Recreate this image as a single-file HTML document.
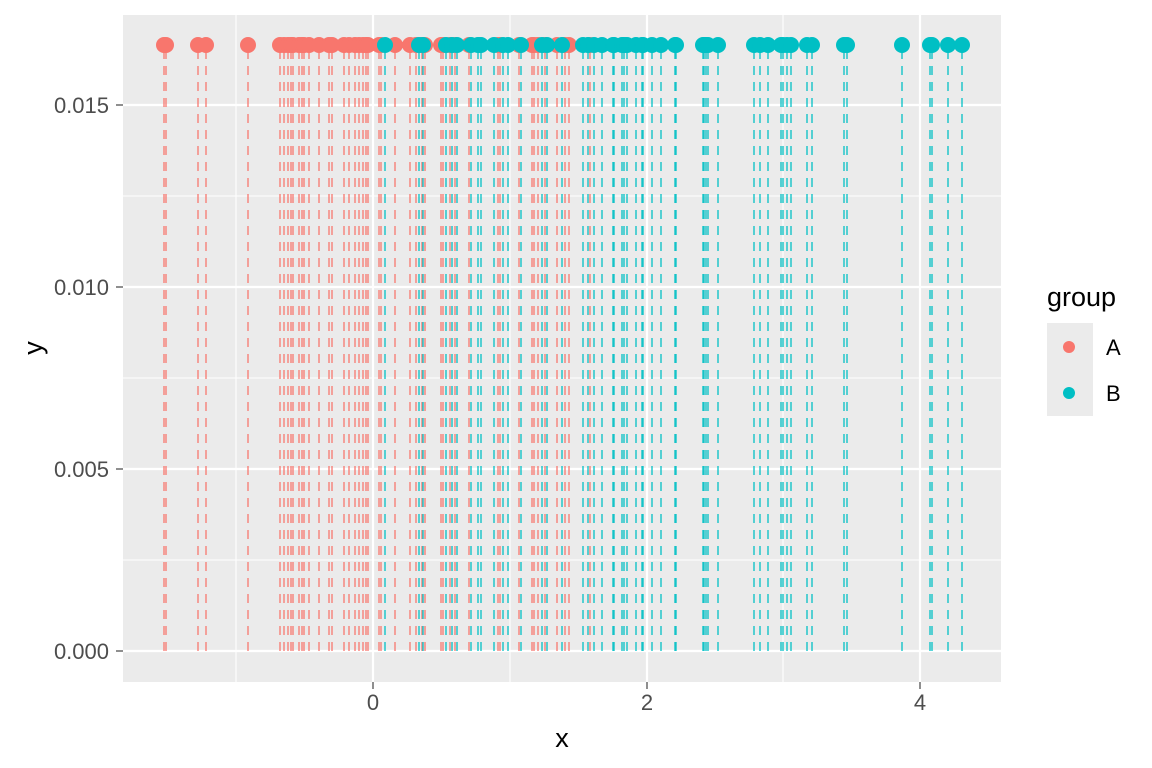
<!DOCTYPE html><html><head><style>body{margin:0;background:#fff}svg{display:block}text{font-family:"Liberation Sans",sans-serif}</style></head><body>
<svg width="1152" height="768" id="s">
<rect x="123" y="15" width="878" height="667" fill="#EBEBEB"/>
<g stroke="#fff" stroke-width="1.1">
<line x1="236" x2="236" y1="15" y2="682"/><line x1="510" x2="510" y1="15" y2="682"/><line x1="783" x2="783" y1="15" y2="682"/>
<line x1="123" x2="1001" y1="196" y2="196"/><line x1="123" x2="1001" y1="378" y2="378"/><line x1="123" x2="1001" y1="560" y2="560"/>
</g>
<g stroke="#fff" stroke-width="2.2">
<line x1="373" x2="373" y1="15" y2="682"/><line x1="647" x2="647" y1="15" y2="682"/><line x1="920" x2="920" y1="15" y2="682"/>
<line x1="123" x2="1001" y1="105" y2="105"/><line x1="123" x2="1001" y1="287" y2="287"/><line x1="123" x2="1001" y1="469" y2="469"/><line x1="123" x2="1001" y1="651" y2="651"/>
</g>
<g id="lines"></g><g id="pts"></g>
<g stroke="#333" stroke-width="1.1">
<line x1="116" x2="123" y1="105" y2="105"/><line x1="116" x2="123" y1="287" y2="287"/><line x1="116" x2="123" y1="469" y2="469"/><line x1="116" x2="123" y1="651" y2="651"/>
<line x1="373" x2="373" y1="682" y2="689"/><line x1="647" x2="647" y1="682" y2="689"/><line x1="920" x2="920" y1="682" y2="689"/>
</g>
<g font-size="22" fill="#4D4D4D" text-anchor="end">
<text x="109" y="113">0.015</text><text x="109" y="295">0.010</text><text x="109" y="477">0.005</text><text x="109" y="659">0.000</text>
</g>
<g font-size="22" fill="#4D4D4D" text-anchor="middle">
<text x="373" y="710">0</text><text x="647" y="710">2</text><text x="920" y="710">4</text>
</g>
<text x="562" y="747" font-size="27" text-anchor="middle">x</text>
<text x="42" y="348" font-size="27" text-anchor="middle" transform="rotate(-90 42 348)">y</text>
<text x="1047" y="306" font-size="27">group</text>
<rect x="1047" y="323" width="46" height="93" fill="#EBEBEB"/>
<circle cx="1069" cy="347" r="6" fill="#F8766D"/><circle cx="1069" cy="393" r="6" fill="#00BFC4"/>
<text x="1106" y="355" font-size="22">A</text><text x="1106" y="401" font-size="22">B</text>
</svg>
<script>
var R=[164,166,198,206,248,280,284,288,291,293,299,302,304,309,319,329,332,344,349,355,359,363,366,368,379,381,395,410,416,422,425,441,443,450,455,469,498,500,519,532,534,538,557,569,590,545,565];
var C=[385,419,423,446,452,457,471,478,481,494,503,508,521,542,547,562,583,588,594,602,613,614,622,624,627,636,642,643,652,661,675,676,703,704,706,708,718,754,760,768,781,783,787,791,807,812,844,847,902,930,932,948,962];
var L=document.getElementById('lines'),P=document.getElementById('pts'),h='',p='';
function add(a,c){a.forEach(function(x){h+='<path d="M'+x+' 651V45" stroke="'+c+'" stroke-width="1.5" stroke-opacity="0.85" stroke-dasharray="9 7" fill="none"/>';p+='<circle cx="'+x+'" cy="45" r="8" fill="'+c+'"/>';});}
add(R,'#F8766D');add(C,'#00BFC4');L.innerHTML=h;P.innerHTML=p;
</script>
</body></html>
